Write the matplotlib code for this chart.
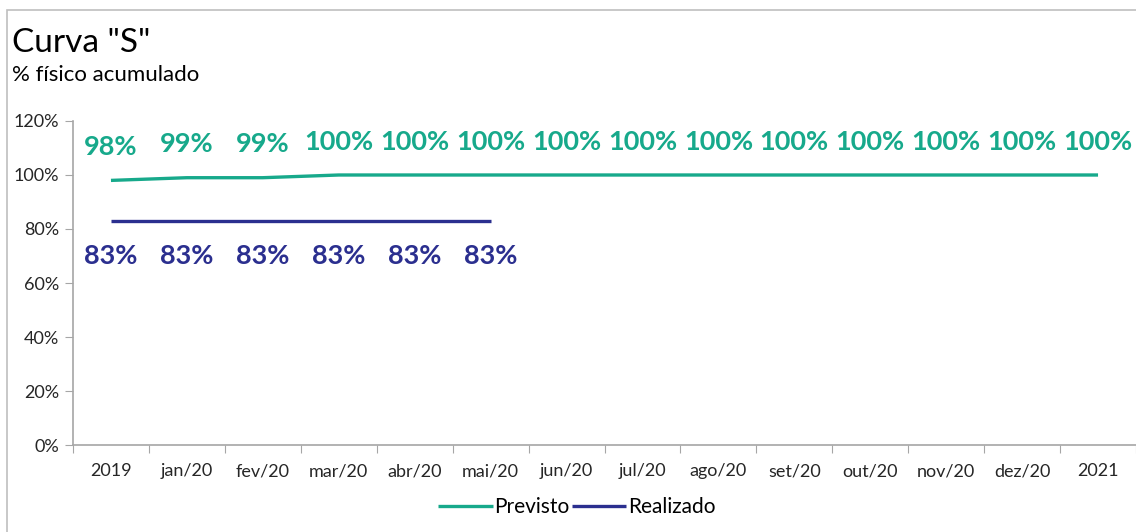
import numpy as np
import matplotlib
matplotlib.use("Agg")
import matplotlib.pyplot as plt
from matplotlib.patches import Rectangle
from matplotlib.ticker import FuncFormatter, FixedLocator

plt.rcParams['font.family'] = ['Lato', 'DejaVu Sans']

# dados
meses = ['2019', 'jan/20', 'fev/20', 'mar/20', 'abr/20', 'mai/20', 'jun/20',
         'jul/20', 'ago/20', 'set/20', 'out/20', 'nov/20', 'dez/20', '2021']
previsto = [98, 99, 99, 100, 100, 100, 100, 100, 100, 100, 100, 100, 100, 100]
realizado = [83, 83, 83, 83, 83, 83]

cor_prev = '#17a98b'
cor_real = '#2b2f8f'
cinza = '#a6a6a6'

fig = plt.figure(figsize=(11.36, 5.32), dpi=100)
W, H = 1136, 532

# moldura do grafico
fig.patches.append(Rectangle((7 / W, -0.1), 1.2, (H - 10) / H + 0.1,
                             transform=fig.transFigure, fill=False,
                             edgecolor='#bfbfbf', linewidth=1.2))

ax = fig.add_axes([73 / W, (H - 445) / H, (1136 - 73) / W, (445 - 121) / H])

x_prev = np.arange(len(previsto))
x_real = np.arange(len(realizado))
ax.plot(x_prev, previsto, color=cor_prev, lw=2.4, solid_capstyle='butt', label='Previsto')
ax.plot(x_real, realizado, color=cor_real, lw=2.4, solid_capstyle='butt', label='Realizado')

for xi, v in zip(x_prev, previsto):
    ax.annotate(f'{v}%', (xi, v), xytext=(0, 24), textcoords='offset points',
                ha='center', va='center', color=cor_prev, fontsize=19.5, fontweight='bold')
for xi, v in zip(x_real, realizado):
    ax.annotate(f'{v}%', (xi, v), xytext=(0, -25), textcoords='offset points',
                ha='center', va='center', color=cor_real, fontsize=19.5, fontweight='bold')

ax.set_xlim(-0.5, len(meses) - 0.5)
ax.set_ylim(0, 120)
ax.set_yticks(np.arange(0, 121, 20))
ax.yaxis.set_major_formatter(FuncFormatter(lambda v, p: f'{v:.0f}%'))

ax.xaxis.set_major_locator(FixedLocator(np.arange(-0.5, len(meses), 1.0)))
ax.xaxis.set_minor_locator(FixedLocator(np.arange(len(meses))))
ax.set_xticklabels([])
ax.set_xticklabels(meses, minor=True)
ax.tick_params(axis='x', which='major', length=6, color=cinza, direction='out')
ax.tick_params(axis='x', which='minor', length=0, pad=13, labelsize=13, labelcolor='#262626')
ax.tick_params(axis='y', length=6, color=cinza, labelsize=13, labelcolor='#262626', pad=4)

for s in ['top', 'right']:
    ax.spines[s].set_visible(False)
for s in ['left', 'bottom']:
    ax.spines[s].set_color(cinza)
    ax.spines[s].set_linewidth(1.2)

fig.text(12 / W, 1 - 43 / H, 'Curva "S"', fontsize=24, va='center', ha='left', color='black')
fig.text(12 / W, 1 - 75 / H, '% físico acumulado', fontsize=16, va='center', ha='left', color='black')

leg = fig.legend(loc='center', bbox_to_anchor=(577 / W, 1 - 507 / H), ncol=2, frameon=False,
                 fontsize=15, handlelength=2.6, handletextpad=0.1, columnspacing=0.1)

fig.savefig('out.png', dpi=100)
